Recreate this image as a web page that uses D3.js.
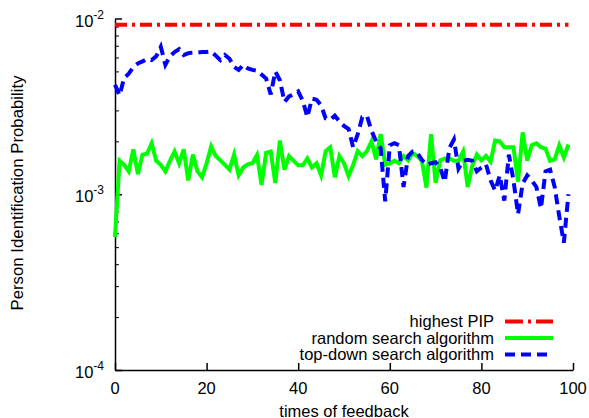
<!DOCTYPE html>
<html>
<head>
<meta charset="utf-8">
<script src="https://d3js.org/d3.v7.min.js"></script>
<style>
  body { margin: 0; background: #fff; }
  text { font-family: "Liberation Sans", Arial, sans-serif; fill: #000; }
</style>
</head>
<body>
<div id="chart"></div>
<script>
// feedback index 0..99
const feedback = d3.range(0, 100);

const highestPIP = 0.0092;

const randomSearch = [
  5.7e-4, 1.55e-3, 1.47e-3, 1.35e-3, 1.8e-3, 1.3e-3, 1.68e-3, 1.7e-3, 1.95e-3, 1.55e-3,
  1.47e-3, 1.35e-3, 1.55e-3, 1.75e-3, 1.5e-3, 1.8e-3, 1.2e-3, 1.68e-3, 1.35e-3, 1.25e-3,
  1.5e-3, 1.87e-3, 1.65e-3, 1.56e-3, 1.47e-3, 1.38e-3, 1.68e-3, 1.28e-3, 1.42e-3, 1.48e-3,
  1.5e-3, 1.67e-3, 1.13e-3, 1.72e-3, 1.75e-3, 1.16e-3, 2.02e-3, 1.38e-3, 1.65e-3, 1.55e-3,
  1.46e-3, 1.46e-3, 1.6e-3, 1.42e-3, 1.5e-3, 1.28e-3, 1.76e-3, 1.85e-3, 1.25e-3, 1.65e-3,
  1.5e-3, 1.27e-3, 1.47e-3, 1.76e-3, 1.65e-3, 1.76e-3, 2.0e-3, 1.58e-3, 2.2e-3, 1.47e-3,
  1.5e-3, 1.55e-3, 1.5e-3, 1.65e-3, 1.56e-3, 1.72e-3, 1.65e-3, 1.55e-3, 1.09e-3, 2.2e-3,
  1.16e-3, 1.56e-3, 1.6e-3, 1.6e-3, 1.55e-3, 1.55e-3, 1.75e-3, 1.1e-3, 1.45e-3, 1.68e-3,
  1.56e-3, 1.65e-3, 1.53e-3, 2.02e-3, 2.0e-3, 1.85e-3, 1.85e-3, 1.85e-3, 1.18e-3, 2.25e-3,
  1.55e-3, 1.9e-3, 1.95e-3, 1.85e-3, 1.82e-3, 1.55e-3, 1.58e-3, 1.9e-3, 1.62e-3, 1.92e-3
];

const topDownSearch = [
  4.2e-3, 3.65e-3, 4.6e-3, 4.85e-3, 5.3e-3, 5.55e-3, 5.7e-3, 5.9e-3, 5.8e-3, 6.1e-3,
  6.9e-3, 5.45e-3, 6.1e-3, 6.45e-3, 6.7e-3, 6.2e-3, 6.35e-3, 6.4e-3, 6.4e-3, 6.45e-3,
  6.45e-3, 6.5e-3, 6.15e-3, 5.8e-3, 6.2e-3, 5.9e-3, 5.3e-3, 5.1e-3, 5.45e-3, 5.2e-3,
  5.1e-3, 5.05e-3, 4.8e-3, 4.55e-3, 3.7e-3, 5.0e-3, 4.45e-3, 3.35e-3, 3.6e-3, 3.7e-3,
  3.85e-3, 3.4e-3, 2.75e-3, 3.5e-3, 3.45e-3, 3.2e-3, 2.7e-3, 2.65e-3, 2.8e-3, 2.6e-3,
  2.45e-3, 2.35e-3, 1.85e-3, 2.2e-3, 2.75e-3, 2.8e-3, 2.3e-3, 2.0e-3, 1.83e-3, 9.1e-4,
  1.9e-3, 1.95e-3, 1.9e-3, 1.1e-3, 1.65e-3, 1.75e-3, 1.72e-3, 1.57e-3, 1.47e-3, 1.5e-3,
  1.52e-3, 1.42e-3, 1.18e-3, 1.83e-3, 2.05e-3, 1.4e-3, 1.55e-3, 1.57e-3, 1.55e-3, 1.35e-3,
  1.42e-3, 1.48e-3, 1.2e-3, 1.05e-3, 1.28e-3, 9.2e-4, 1.68e-3, 1.2e-3, 7.7e-4, 1.15e-3,
  1.28e-3, 1.2e-3, 1.1e-3, 8.3e-4, 1.35e-3, 1.38e-3, 1.1e-3, 7.5e-4, 5.3e-4, 1.0e-3
];

const xTicks = [0, 20, 40, 60, 80, 100];
const yMajor = [1e-4, 1e-3, 1e-2];
const yExp = ["-4", "-3", "-2"];

const legendNames = ["highest PIP", "random search algorithm", "top-down search algorithm"];

const width = 589, height = 418;
const fs = 16.5;

const svg = d3.select("#chart").append("svg")
  .attr("width", width)
  .attr("height", height);

const x = d3.scaleLinear().domain([0, 100]).range([115, 573]);
const y = d3.scaleLog().domain([1e-4, 1e-2]).range([370, 18.5]);

// minor ticks on the log axis
const yMinor = [];
[1e-4, 1e-3].forEach(base => {
  for (let k = 2; k <= 9; k++) yMinor.push(base * k);
});

// axes
const gx = svg.append("g")
  .attr("transform", `translate(0,${y.range()[0]})`)
  .call(d3.axisBottom(x).tickValues(xTicks).tickSizeInner(-7).tickSizeOuter(0).tickFormat(""));
gx.selectAll("line, path").attr("stroke", "#000").attr("stroke-width", 1.5);

const gyMinor = svg.append("g")
  .attr("transform", `translate(${x.range()[0]},0)`)
  .call(d3.axisLeft(y).tickValues(yMinor).tickSizeInner(-4).tickSizeOuter(0).tickFormat(""));
gyMinor.selectAll("line").attr("stroke", "#000").attr("stroke-width", 1);
gyMinor.select("path").remove();

const gy = svg.append("g")
  .attr("transform", `translate(${x.range()[0]},0)`)
  .call(d3.axisLeft(y).tickValues(yMajor).tickSizeInner(-7).tickSizeOuter(0).tickFormat(""));
gy.selectAll("line, path").attr("stroke", "#000").attr("stroke-width", 1.5);

// tick labels
svg.append("g").selectAll("text")
  .data(xTicks)
  .join("text")
  .attr("x", d => x(d))
  .attr("y", 393.5)
  .attr("text-anchor", "middle")
  .attr("font-size", fs)
  .text(d => d);

const yl = svg.append("g").selectAll("text")
  .data(yMajor)
  .join("text")
  .attr("x", 104)
  .attr("y", d => y(d) + 8)
  .attr("text-anchor", "end")
  .attr("font-size", fs);
yl.append("tspan").text("10");
yl.append("tspan")
  .attr("dy", -8)
  .attr("font-size", 12)
  .text((d, i) => yExp[i]);

// axis titles
svg.append("text")
  .attr("x", (x.range()[0] + x.range()[1]) / 2)
  .attr("y", 416.5)
  .attr("text-anchor", "middle")
  .attr("font-size", fs)
  .text("times of feedback");

svg.append("text")
  .attr("transform", `translate(22.5,193) rotate(-90)`)
  .attr("text-anchor", "middle")
  .attr("font-size", 16.8)
  .text("Person Identification Probability");

// series
const line = d3.line()
  .x((d, i) => x(feedback[i]))
  .y(d => y(d));

const styles = [
  { color: "#ff0000", dash: "12,5,3,5" },
  { color: "#00ff00", dash: null },
  { color: "#0000ff", dash: "10,6" }
];

svg.append("path")
  .datum(feedback.map(() => highestPIP))
  .attr("d", line)
  .attr("fill", "none")
  .attr("stroke", styles[0].color)
  .attr("stroke-width", 4)
  .attr("stroke-dasharray", styles[0].dash);

svg.append("path")
  .datum(randomSearch)
  .attr("d", line)
  .attr("fill", "none")
  .attr("stroke", styles[1].color)
  .attr("stroke-width", 4)
  .attr("stroke-linejoin", "miter");

svg.append("path")
  .datum(topDownSearch)
  .attr("d", line)
  .attr("fill", "none")
  .attr("stroke", styles[2].color)
  .attr("stroke-width", 4)
  .attr("stroke-dasharray", styles[2].dash);

// legend
const legend = svg.append("g");
const rows = legend.selectAll("g")
  .data(legendNames)
  .join("g")
  .attr("transform", (d, i) => `translate(0,${321.5 + i * 16.5})`);

rows.append("text")
  .attr("x", 494)
  .attr("y", 5.5)
  .attr("text-anchor", "end")
  .attr("font-size", fs)
  .text(d => d);

rows.append("line")
  .attr("x1", 505)
  .attr("x2", 553)
  .attr("stroke", (d, i) => styles[i].color)
  .attr("stroke-width", 4)
  .attr("stroke-dasharray", (d, i) => i === 0 ? "18,5,3,5" : styles[i].dash);
</script>
</body>
</html>
